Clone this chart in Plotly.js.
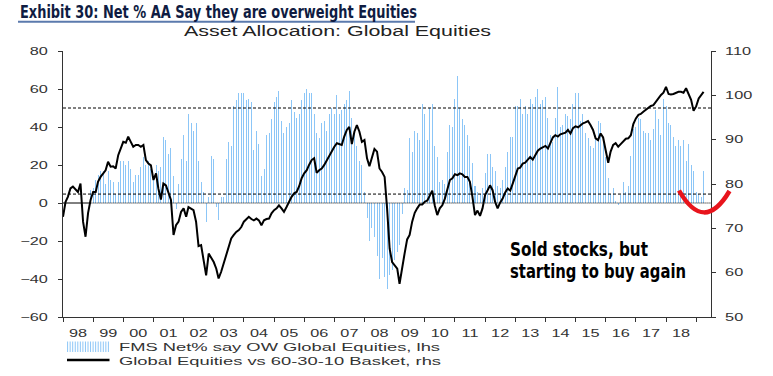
<!DOCTYPE html>
<html><head><meta charset="utf-8">
<script src="https://cdn.plot.ly/plotly-3.0.1.min.js"></script>
<style>html,body{margin:0;padding:0;background:#fff;}#chart{width:773px;height:376px;}</style>
</head><body><div id="chart"></div>
<script>
// ---------------- DATA ----------------
const titleText = 'Exhibit 30: Net % AA Say they are overweight Equities';
const subtitleText = 'Asset Allocation: Global Equities';
const legendLabels = ['FMS Net% say OW Global Equities, lhs', 'Global Equities vs 60-30-10 Basket, rhs'];
const noteLines = ['Sold stocks, but', 'starting to buy again'];

// FMS net % overweight global equities, monthly from Dec 1998 (lhs)
const fmsStart = '1998-12';
const fmsNetOW = [
  7,
  8, 12, 15, 17, 17, 10, 17, 12, 11, 5, 11, 22,
  22, 20, 22, 18, 11, 15, 15, 19, 24, 20, 22, 18,
  14, 20, 17, 19, 35, 33, 26, 29, 14, -3, 10, 23,
  36, 22, 47, 42, 38, 42, 22, 11, 6, -10, 3, 25,
  23, -2, -9, 3, 3, 23, 32, 30, 51, 54, 58, 58,
  58, 54, 55, 53, 28, 38, 31, 14, 18, 36, 37, 44,
  53, 56, 59, 43, 37, 40, 42, 54, 48, 45, 47, 54,
  58, 60, 58, 58, 47, 37, 34, 42, 43, 38, 47, 50,
  47, 57, 47, 49, 52, 54, 59, 45, 38, 30, 22, 20,
  6, -8, -20, -13, -18, -28, -40, -29, -39, -45, -38, -35,
  -30, -26, -22, -6, 8, 7, 34, 27, 38, 37, 33, 52,
  47, 33, 50, 52, 30, 24, 11, 12, 10, 27, 41, 40,
  55, 67, 50, 44, 41, 36, 30, 21, 9, 6, 5, 8,
  16, 26, 26, 19, 17, 9, 8, 12, 19, 27, 35, 35,
  51, 51, 55, 47, 51, 47, 55, 52, 56, 60, 52, 54,
  56, 45, 36, 32, 45, 61, 40, 41, 47, 46, 44, 52,
  58, 58, 43, 47, 37, 34, 30, 29, 36, 43, 42, 32,
  24, 13, 5, 8, 1, -1, 4, 11, 6, 9, 25, 39,
  40, 45, 44, 38, 37, 37, 33, 39, 49, 44, 36, 55,
  51, 42, 41, 35, 30, 33, 30, 33, 22, 31, 20, 17,
  6, 5, 3, 17
];

// Global equities vs 60-30-10 basket, monthly from Jan 1998 (rhs)
const eqStart = '1998-01';
const eqVsBasket = [
  72.6, 76.0, 77.1, 79.0, 79.4, 78.8, 78.2, 80.1, 71.5, 68.1, 73.5, 76.4,
  78.2, 78.2, 80.5, 81.6, 82.4, 83.1, 85.0, 83.9, 84.0, 83.5, 86.5, 88.0,
  89.5, 89.3, 90.7, 89.5, 88.4, 88.8, 88.8, 88.4, 88.8, 85.4, 84.6, 84.2,
  80.9, 82.4, 79.0, 76.5, 80.1, 79.7, 78.2, 76.4, 68.5, 70.7, 71.5, 73.7,
  74.5, 72.6, 74.8, 74.5, 74.1, 71.5, 66.0, 66.2, 63.2, 59.4, 64.3, 63.5,
  62.4, 60.9, 58.7, 60.2, 62.1, 64.3, 66.2, 67.7, 68.5, 69.2, 69.6, 70.3,
  71.5, 72.2, 72.6, 72.1, 71.8, 72.2, 71.8, 70.7, 71.8, 72.1, 72.2, 73.4,
  74.1, 74.5, 75.2, 74.5, 73.7, 74.8, 76.0, 77.1, 77.9, 78.2, 79.5, 81.3,
  82.4, 83.1, 84.3, 85.4, 85.8, 82.5, 83.1, 83.5, 84.3, 85.4, 86.5, 87.3,
  88.4, 89.2, 89.0, 88.8, 90.7, 92.2, 92.9, 89.0, 91.8, 93.3, 91.8, 89.5,
  89.9, 85.8, 84.0, 86.1, 87.9, 87.3, 83.5, 82.7, 81.6, 74.5, 65.4, 62.4,
  61.7, 60.9, 57.5, 61.5, 64.3, 67.5, 68.5, 71.5, 73.5, 74.5, 75.4, 75.4,
  76.0, 76.3, 77.5, 78.5, 75.2, 73.0, 74.5, 75.2, 76.7, 79.0, 80.9, 81.3,
  82.2, 82.0, 82.4, 82.2, 81.6, 81.6, 80.5, 77.1, 73.0, 74.0, 72.8, 74.5,
  77.5, 78.6, 79.7, 78.6, 76.0, 74.5, 75.8, 76.7, 78.1, 79.0, 78.5, 80.1,
  82.0, 83.5, 83.7, 84.6, 84.8, 85.6, 86.1, 85.5, 86.5, 87.5, 88.0, 88.3,
  88.6, 88.0, 89.3, 90.5, 91.0, 90.7, 91.2, 91.4, 91.6, 92.2, 91.4, 92.6,
  93.0, 92.8, 93.3, 93.7, 93.9, 94.2, 93.3, 92.2, 90.3, 89.9, 91.4, 90.5,
  87.6, 84.8, 87.3, 88.8, 89.2, 88.4, 89.0, 89.5, 90.2, 90.3, 91.0, 93.5,
  94.8, 95.6, 95.8, 96.3, 96.7, 97.2, 97.6, 97.8, 98.6, 99.1, 100.1, 100.6,
  101.9, 100.3, 100.2, 100.3, 100.6, 100.8, 100.8, 100.6, 101.6, 100.2, 99.0, 96.5,
  97.5, 99.3, 100.1, 100.8
];

const upperLevel = 50;   // lhs
const lowerLevel = 4.7;  // lhs

// ---------------- BUILD ----------------
function monthSeq(start, n) {
  const [y, m] = start.split('-').map(Number);
  const out = [];
  for (let i = 0; i < n; i++) {
    const k = m - 1 + i;
    out.push((y + Math.floor(k / 12)) + '-' + String(k % 12 + 1).padStart(2, '0') + '-01');
  }
  return out;
}
const fmsDates = monthSeq(fmsStart, fmsNetOW.length);
const eqDates = monthSeq(eqStart, eqVsBasket.length);

const PL = 63, PR = 711, PT = 51, PB = 317;
const X = px => (px - PL) / (PR - PL);
const Y = py => (PB - py) / (PB - PT);

const tickFont = {family: 'Liberation Sans, Arial, sans-serif', size: 10.5, color: '#333'};
const xStart = '1998-01-01', xEnd = '2019-06-30';

const traces = [
  {type: 'bar', x: fmsDates, y: fmsNetOW, yaxis: 'y', name: legendLabels[0],
   marker: {color: '#8cc6f7', line: {width: 0}}, width: 1.05e9, showlegend: false, hoverinfo: 'skip'},
  {type: 'scatter', mode: 'lines', x: eqDates, y: eqVsBasket, yaxis: 'y2', name: legendLabels[1],
   line: {color: '#000', width: 2}, showlegend: false, hoverinfo: 'skip'}
];

const shapes = [
  {type: 'line', xref: 'paper', x0: 0, x1: 1, yref: 'y', y0: upperLevel, y1: upperLevel, line: {color: '#000', width: 1, dash: '3px,2px'}},
  {type: 'line', xref: 'paper', x0: 0, x1: 1, yref: 'y', y0: lowerLevel, y1: lowerLevel, line: {color: '#000', width: 1, dash: '3px,2px'}},
  {type: 'line', xref: 'x', x0: xStart, x1: fmsDates[0], yref: 'y', y0: 0, y1: 0, line: {color: '#000', width: 1}},
  {type: 'line', xref: 'x', x0: fmsDates[0], x1: xEnd, yref: 'y', y0: 0, y1: 0, line: {color: '#000', width: 1, dash: '1px,1px'}},
  // red swoosh
  {type: 'path', xref: 'paper', yref: 'paper',
   path: `M ${X(679)},${Y(190.5)} Q ${X(704)},${Y(234)} ${X(729.5)},${Y(191)}`,
   line: {color: '#e8141c', width: 4.5}},
  // title rule
  {type: 'line', xref: 'paper', yref: 'paper', x0: X(18), x1: X(415), y0: Y(21.8), y1: Y(21.8), line: {color: '#5b7aad', width: 2}},
  // legend line icon
  {type: 'line', xref: 'paper', yref: 'paper', x0: X(67), x1: X(109.5), y0: Y(360), y1: Y(360), line: {color: '#000', width: 2.3}}
];
for (let i = 0; i < 17; i++) {
  const px = 67.6 + i * 2.55;
  shapes.push({type: 'line', xref: 'paper', yref: 'paper', x0: X(px), x1: X(px), y0: Y(341.5), y1: Y(352), line: {color: '#8cc6f7', width: 1}});
}

const annotations = [
  {text: '<b>' + titleText + '</b>', xref: 'paper', yref: 'paper', x: X(18), y: Y(11), xanchor: 'left', yanchor: 'middle', align: 'left', showarrow: false,
   font: {family: 'Liberation Sans Narrow, DejaVu Sans Condensed, Arial Narrow, sans-serif', size: 18, color: '#0f1c42'}},
  {text: subtitleText, xref: 'paper', yref: 'paper', x: X(182), y: Y(31), xanchor: 'left', yanchor: 'middle', align: 'left', showarrow: false,
   font: {family: 'Liberation Sans, Arial, sans-serif', size: 14, color: '#222'}},
  {text: legendLabels[0], xref: 'paper', yref: 'paper', x: X(116.7), y: Y(346.5), xanchor: 'left', yanchor: 'middle', align: 'left', showarrow: false,
   font: {family: 'Liberation Sans, Arial, sans-serif', size: 11.6, color: '#333'}},
  {text: legendLabels[1], xref: 'paper', yref: 'paper', x: X(116.7), y: Y(360), xanchor: 'left', yanchor: 'middle', align: 'left', showarrow: false,
   font: {family: 'Liberation Sans, Arial, sans-serif', size: 11.6, color: '#333'}},
  {text: '<b>' + noteLines[0] + '</b>', xref: 'paper', yref: 'paper', x: X(508), y: Y(249), xanchor: 'left', yanchor: 'middle', align: 'left', showarrow: false,
   font: {family: 'Liberation Sans Narrow, DejaVu Sans Condensed, Arial Narrow, sans-serif', size: 20, color: '#000'}},
  {text: '<b>' + noteLines[1] + '</b>', xref: 'paper', yref: 'paper', x: X(508), y: Y(271), xanchor: 'left', yanchor: 'middle', align: 'left', showarrow: false,
   font: {family: 'Liberation Sans Narrow, DejaVu Sans Condensed, Arial Narrow, sans-serif', size: 20, color: '#000'}}
];
// target text widths (px) for annotations, by index
const annWidths = {0: 397, 1: 307, 2: 321, 3: 322, 4: 138, 5: 176};

const axisCommon = {showgrid: false, zeroline: false, showline: true, linecolor: '#333', linewidth: 1,
  ticks: 'outside', ticklen: 4, tickcolor: '#333', tickwidth: 1, tickfont: tickFont, fixedrange: true};

const layout = {
  width: 773, height: 376,
  margin: {l: PL, r: 773 - PR, t: PT, b: 376 - PB, pad: 0},
  paper_bgcolor: '#fff', plot_bgcolor: '#fff',
  bargap: 0, showlegend: false,
  xaxis: Object.assign({}, axisCommon, {type: 'date', range: [xStart, xEnd], dtick: 'M12', tick0: xStart,
    tickformat: '%y', ticklabelmode: 'period', ticklabelstandoff: 2}),
  yaxis: Object.assign({}, axisCommon, {range: [-60, 80], dtick: 20, tick0: 0, ticklabelstandoff: 8}),
  yaxis2: Object.assign({}, axisCommon, {overlaying: 'y', side: 'right', range: [50, 110], dtick: 10, tick0: 50, ticklabelstandoff: 7}),
  shapes: shapes,
  annotations: annotations
};

const gd = document.getElementById('chart');
Plotly.newPlot(gd, traces, layout, {staticPlot: true, displayModeBar: false}).then(() => {
  const stretch = (el, target) => {
    el.setAttribute('textLength', target.toFixed(1));
    el.setAttribute('lengthAdjust', 'spacingAndGlyphs');
  };
  gd.querySelectorAll('.xtick text, .ytick text, .y2tick text').forEach(t => {
    stretch(t, t.getComputedTextLength() * 1.55);
  });
  gd.querySelectorAll('.annotation').forEach(g => {
    const i = +g.getAttribute('data-index');
    const t = g.querySelector('text.annotation-text');
    if (t && annWidths[i] !== undefined) stretch(t, annWidths[i]);
  });
});
</script>
</body></html>
